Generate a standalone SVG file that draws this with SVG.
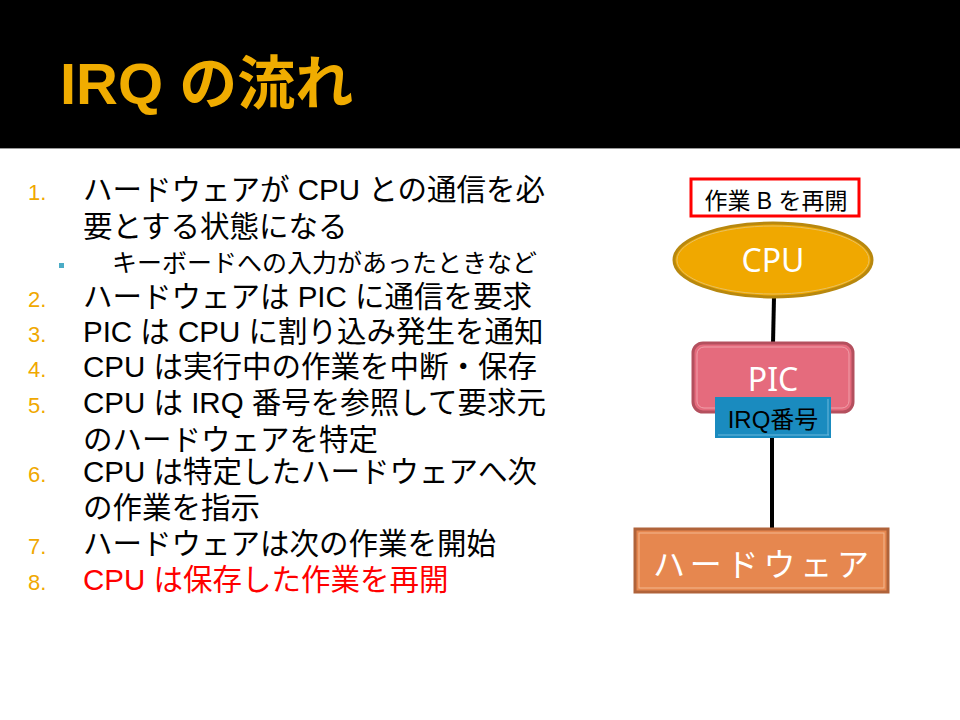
<svg xmlns="http://www.w3.org/2000/svg" width="960" height="720" viewBox="0 0 960 720">
<style>
.t{font-family:"Liberation Sans","Noto Sans CJK JP",sans-serif;font-size:29.5px;fill:#000}
.n{font-family:"Liberation Sans","Noto Sans CJK JP",sans-serif;font-size:22px;fill:#f0a800}
.s{font-family:"Liberation Sans","Noto Sans CJK JP",sans-serif;font-size:25px;fill:#000}
.w{font-family:"Noto Sans","Noto Sans CJK JP",sans-serif;fill:#fff;text-anchor:middle}
.conn{stroke:#000;stroke-width:4;fill:none}
</style>
<rect x="0" y="0" width="960" height="720" fill="#fff"/>
<rect x="0" y="0" width="960" height="148" fill="#000"/>
<line x1="0" y1="148.5" x2="960" y2="148.5" stroke="#999" stroke-width="1"/>
<text x="60" y="104" font-family="Liberation Sans,'Noto Sans CJK JP',sans-serif" font-size="58" font-weight="bold" fill="#f0ac00">IRQ の流れ</text>

<g id="list">
<text class="n" x="28" y="200">1.</text>
<text class="t" x="83" y="200">ハードウェアが CPU との通信を必</text>
<text class="t" x="83" y="237">要とする状態になる</text>
<rect x="59" y="263" width="5" height="5" fill="#4bacc6"/>
<text class="s" x="112" y="272">キーボードへの入力があったときなど</text>
<text class="n" x="28" y="307">2.</text>
<text class="t" x="83" y="307">ハードウェアは PIC に通信を要求</text>
<text class="n" x="28" y="342">3.</text>
<text class="t" x="83" y="342">PIC は CPU に割り込み発生を通知</text>
<text class="n" x="28" y="377">4.</text>
<text class="t" x="83" y="377">CPU は実行中の作業を中断・保存</text>
<text class="n" x="28" y="413">5.</text>
<text class="t" x="83" y="413">CPU は IRQ 番号を参照して要求元</text>
<text class="t" x="83" y="450">のハードウェアを特定</text>
<text class="n" x="28" y="482">6.</text>
<text class="t" x="83" y="482">CPU は特定したハードウェアへ次</text>
<text class="t" x="83" y="518">の作業を指示</text>
<text class="n" x="28" y="554">7.</text>
<text class="t" x="83" y="554">ハードウェアは次の作業を開始</text>
<text class="n" x="28" y="590">8.</text>
<text class="t" x="83" y="590" style="fill:#ff0000">CPU は保存した作業を再開</text>
</g>

<g id="connectors">
<line class="conn" x1="774" y1="297" x2="773" y2="344"/>
<line class="conn" x1="772" y1="438" x2="772" y2="529"/>
</g>

<g id="note">
<rect x="691" y="179" width="168" height="37" fill="#fff" stroke="#ff0000" stroke-width="3"/>
<text x="776" y="209" font-family="Liberation Sans,'Noto Sans CJK JP',sans-serif" font-size="23" text-anchor="middle" fill="#000">作業 B を再開</text>
</g>

<g id="cpu">
<ellipse cx="773" cy="260" rx="99" ry="37" fill="#f0a800" stroke="#b8880e" stroke-width="3"/>
<ellipse cx="773" cy="260" rx="96" ry="34" fill="none" stroke="#e8c060" stroke-width="1"/>
<text class="w" x="773" y="272" font-size="32">CPU</text>
</g>

<g id="pic">
<rect x="693" y="343" width="160" height="69" rx="10" fill="#e56b7d" stroke="#b4505e" stroke-width="3"/>
<rect x="697" y="347" width="152" height="61" rx="7" fill="none" stroke="#f0a0aa" stroke-width="1"/>
<text class="w" x="773" y="391" font-size="32">PIC</text>
</g>

<g id="irq">
<rect x="715" y="397" width="116" height="41" fill="#1a8bbf"/>
<line x1="718" y1="435" x2="829" y2="435" stroke="#6cb8dc" stroke-width="1"/>
<line x1="828" y1="399" x2="828" y2="435" stroke="#6cb8dc" stroke-width="1"/>
<text x="773" y="428" font-family="Liberation Sans,'Noto Sans CJK JP',sans-serif" font-size="24" text-anchor="middle" fill="#000">IRQ番号</text>
</g>

<g id="hardware">
<rect x="635" y="529" width="253" height="63" fill="#e6874f" stroke="#b0633a" stroke-width="3"/>
<rect x="639" y="533" width="245" height="55" fill="none" stroke="#f4b890" stroke-width="1"/>
<text x="653" y="576" font-family="Noto Sans,'Noto Sans CJK JP',sans-serif" font-size="32" fill="#fff" textLength="216" lengthAdjust="spacing">ハードウェア</text>
</g>
</svg>
